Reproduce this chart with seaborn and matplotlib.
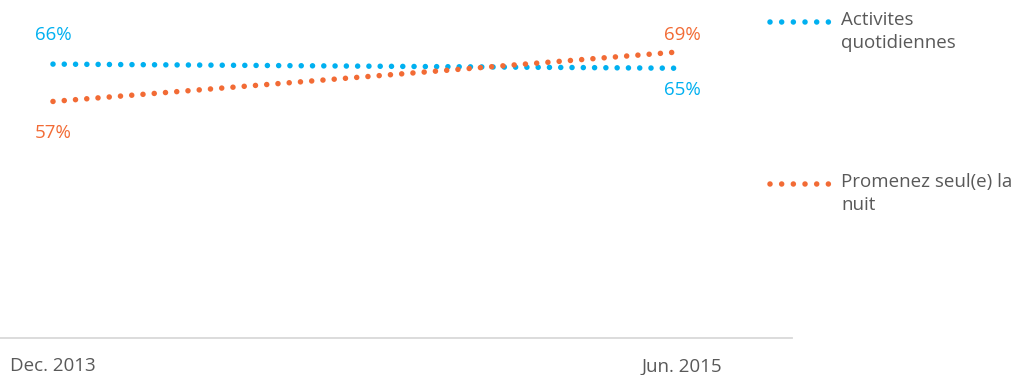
import pandas as pd
import matplotlib.pyplot as plt
import seaborn as sns
from matplotlib.lines import Line2D

# ---- data ----
periods = ["Dec. 2013", "Jun. 2015"]
series_names = ["Activites\nquotidiennes", "Promenez seul(e) la\nnuit"]
activites = [66, 65]
promenez = [57, 69]
colors = ["#00B0F0", "#F26B35"]
# label offsets (points) above / below each point
label_offsets = [[(0, 21), (0, -16)], [(0, -23), (0, 12)]]

df = pd.DataFrame({
    "period": periods * 2,
    "value": activites + promenez,
    "series": [series_names[0]] * 2 + [series_names[1]] * 2,
})

sns.set_style("white")
plt.rcParams["font.family"] = ["Open Sans", "DejaVu Sans"]

W, H = 1019, 375
fig = plt.figure(figsize=(W / 100, H / 100), dpi=100)
ax = fig.add_axes([0, 37 / H, 792 / W, 332 / H])

dot_style = (0, (0.001, 2.03))
for name, color in zip(series_names, colors):
    sub = df[df["series"] == name]
    sns.lineplot(data=sub, x="period", y="value", ax=ax, color=color,
                 linewidth=4.0, linestyle=dot_style, dash_capstyle="round",
                 legend=False)

# data labels
for name, color, offs in zip(series_names, colors, label_offsets):
    sub = df[df["series"] == name].reset_index(drop=True)
    for i, row in sub.iterrows():
        ax.annotate(f"{row['value']}%", (i, row["value"]), xytext=offs[i],
                    textcoords="offset points", ha="center", va="center",
                    color=color, fontsize=13.5)

ax.set_xlim(-53 / 629, 1 + 110 / 629)
ax.set_ylim(0, 80)
ax.set_xlabel("")
ax.set_ylabel("")
ax.set_yticks([])
ax.tick_params(axis="x", length=0, pad=14, labelsize=13.5, labelcolor="#595959")
for s in ["top", "left", "right"]:
    ax.spines[s].set_visible(False)
ax.spines["bottom"].set_color("#D9D9D9")
ax.spines["bottom"].set_linewidth(1.3)

# manual legend on the right
legend_y = [22, 184]
for name, color, yp in zip(series_names, colors, legend_y):
    fy = 1 - yp / H
    fig.add_artist(Line2D([770 / W, 832 / W], [fy, fy], transform=fig.transFigure,
                          color=color, linewidth=4.0, linestyle=(0, (0.001, 2.1)),
                          dash_capstyle="round"))
    fig.text(841 / W, fy + 11 / H, name, ha="left", va="top", fontsize=13.5,
             color="#595959", linespacing=1.35)

fig.savefig("out.png", dpi=100)
